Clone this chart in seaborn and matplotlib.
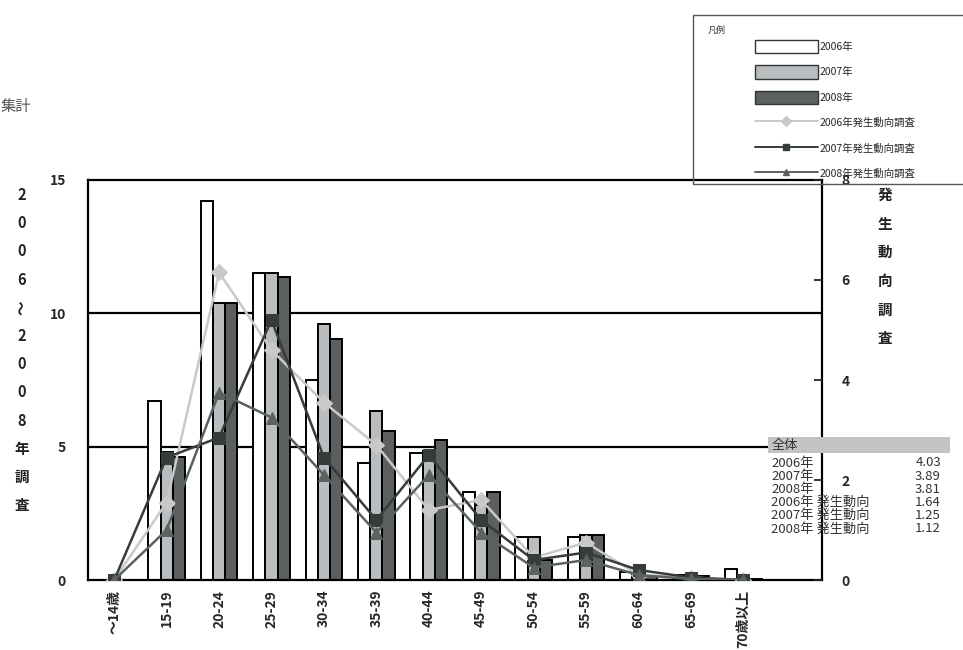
import numpy as np
import pandas as pd
import matplotlib
matplotlib.use('Agg')
import matplotlib.pyplot as plt
import seaborn as sns
from matplotlib.patches import Patch, Rectangle
from matplotlib.lines import Line2D

# ------------------------------------------------------------
# データ
# ------------------------------------------------------------
ages = ['～14歳', '15-19', '20-24', '25-29', '30-34', '35-39', '40-44',
        '45-49', '50-54', '55-59', '60-64', '65-69', '70歳以上']
years = ['2006年', '2007年', '2008年']
bar_2006 = [0, 6.7, 14.2, 11.5, 7.5, 4.4, 4.75, 3.3, 1.6, 1.6, 0.3, 0.2, 0.4]
bar_2007 = [0, 4.8, 10.4, 11.5, 9.6, 6.35, 4.85, 2.8, 1.6, 1.7, 0.2, 0.2, 0.05]
bar_2008 = [0, 4.6, 10.4, 11.35, 9.05, 5.6, 5.25, 3.3, 0.75, 1.7, 0.15, 0.15, 0.05]

trend_labels = ['2006年発生動向調査', '2007年発生動向調査', '2008年発生動向調査']
trend_2006 = [0, 1.55, 6.15, 4.6, 3.55, 2.7, 1.4, 1.6, 0.45, 0.75, 0.1, 0.05, 0]
trend_2007 = [0, 2.45, 2.85, 5.2, 2.45, 1.2, 2.5, 1.2, 0.4, 0.55, 0.2, 0.05, 0]
trend_2008 = [0, 1.0, 3.75, 3.25, 2.1, 0.95, 2.1, 0.95, 0.25, 0.4, 0.1, 0.02, 0]

summary_labels = ['2006年', '2007年', '2008年',
                  '2006年 発生動向', '2007年 発生動向', '2008年 発生動向']
summary_values = ['4.03', '3.89', '3.81', '1.64', '1.25', '1.12']

left_ticks = [0, 5, 10, 15]
right_ticks = [0, 2, 4, 6, 8]

# ------------------------------------------------------------
# スタイル
# ------------------------------------------------------------
sns.set_style('white')
plt.rcParams['font.family'] = ['Noto Sans CJK JP', 'DejaVu Sans']

bar_colors = ['#ffffff', '#b9bdc0', '#5b6060']
line_colors = ['#c9c9c9', '#363b3b', '#5c6161']
line_markers = ['D', 's', '^']

W, H = 963, 650
fig = plt.figure(figsize=(W / 100, H / 100), dpi=100)
ax = fig.add_axes([88 / W, 70 / H, (822 - 88) / W, 400 / H])

df = pd.DataFrame({
    'age': ages * 3,
    'year': np.repeat(years, len(ages)),
    'value': bar_2006 + bar_2007 + bar_2008,
})

for yv in [5, 10]:
    ax.axhline(yv, color='black', lw=1.6, zorder=0)

sns.barplot(data=df, x='age', y='value', hue='year', order=ages, hue_order=years,
            palette=bar_colors, edgecolor='black', linewidth=1.4, width=0.7,
            ax=ax, legend=False, zorder=2)

ax.set_xlim(-0.5, 13.5)
ax.set_ylim(0, 15)
ax.set_yticks(left_ticks)
ax.set_yticklabels([str(t) for t in left_ticks], fontsize=10, fontweight='bold')
ax.tick_params(axis='y', length=0, pad=16)
ax.set_xticks(range(len(ages)))
ax.set_xticklabels(ages, rotation=90, fontsize=10, fontweight='bold', va='top')
ax.tick_params(axis='x', which='major', length=0, pad=7)
ax.set_xticks(np.arange(0.5, 13.6, 1), minor=True)
ax.tick_params(axis='x', which='minor', direction='in', length=6, width=1.3, color='black')
ax.set_xlabel('')
ax.set_ylabel('')
for s in ax.spines.values():
    s.set_color('black')
    s.set_linewidth(1.6)

# 発生動向調査（右軸）
ax2 = ax.twinx()
xs = np.arange(len(ages))
for vals, col, mk in zip([trend_2006, trend_2007, trend_2008], line_colors, line_markers):
    sns.lineplot(x=xs, y=vals, ax=ax2, color=col, marker=mk, markersize=8,
                 markeredgecolor=col, linewidth=1.8, sort=False, legend=False)
ax2.set_ylim(0, 8)
ax2.set_yticks(right_ticks)
ax2.set_yticklabels([str(t) for t in right_ticks], fontsize=10, fontweight='bold')
ax2.tick_params(axis='y', direction='in', length=6, width=1.3, pad=14)
ax2.set_xlim(-0.5, 13.5)
ax2.set_ylabel('')
for s in ax2.spines.values():
    s.set_visible(False)

# 縦書きラベル
left_chars = ['2', '0', '0', '6', '～', '2', '0', '0', '8', '年', '調', '査']
for i, ch in enumerate(left_chars):
    fig.text(22 / W, 1 - (195 + 28.2 * i) / H, ch, ha='center', va='center',
             fontsize=10.5, fontweight='bold', color='#222',
             rotation=90 if ch == '～' else 0)
right_chars = ['発', '生', '動', '向', '調', '査']
for i, ch in enumerate(right_chars):
    fig.text(885 / W, 1 - (195 + 28.6 * i) / H, ch, ha='center', va='center',
             fontsize=10.5, fontweight='bold', color='#222')

fig.text(1 / W, 1 - 107 / H, '集計', ha='left', va='center', fontsize=11, color='#555')

# 凡例
fig.patches.append(Rectangle((693 / W, 1 - 184 / H), 300 / W, 169 / H,
                             transform=fig.transFigure, fill=False,
                             edgecolor='#555', lw=1.0, zorder=5))
fig.text(708 / W, 1 - 30 / H, '凡例', ha='left', va='center', fontsize=6.5, color='#333')
handles = [Patch(facecolor=c, edgecolor='#333', lw=1.0) for c in bar_colors]
handles += [Line2D([0], [0], color=c, marker=m, markersize=5, lw=1.4)
            for c, m in zip(line_colors, line_markers)]
fig.legend(handles, years + trend_labels, loc='upper left',
           bbox_to_anchor=(755 / W, 1 - 40 / H), frameon=False, fontsize=7.5,
           handlelength=6.0, handleheight=1.6, labelspacing=1.15,
           handletextpad=0.15, borderpad=0, borderaxespad=0)

# 全体の表
fig.patches.append(Rectangle((768 / W, 1 - 453 / H), 182 / W, 16 / H,
                             transform=fig.transFigure, facecolor='#c3c3c3',
                             edgecolor='none', zorder=5))
fig.text(772 / W, 1 - 445 / H, '全体', ha='left', va='center', fontsize=9.5,
         color='#333', zorder=6)
for i, (lab, val) in enumerate(zip(summary_labels, summary_values)):
    yy = 1 - (463 + 13.2 * i) / H
    fig.text(771 / W, yy, lab, ha='left', va='center', fontsize=9.5, color='#333')
    fig.text(941 / W, yy, val, ha='right', va='center', fontsize=9.5, color='#333')

fig.savefig('out.png', dpi=100)
